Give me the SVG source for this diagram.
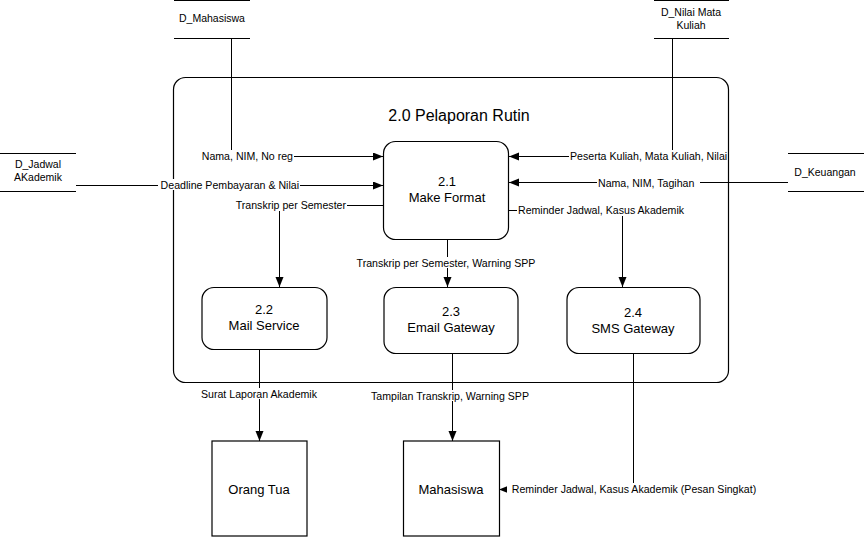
<svg xmlns="http://www.w3.org/2000/svg" width="864" height="537" viewBox="0 0 864 537">
<style>
text{font-family:"Liberation Sans",Arial,sans-serif;fill:#000}
.lbl{font-size:10.6px}
.st{font-size:10.5px;text-anchor:middle}
.nt{font-size:13px;text-anchor:middle}
.ttl{font-size:16px;text-anchor:middle}
.proc{fill:#fff;stroke:#000;stroke-width:1.2}
.ent{fill:#fff;stroke:#000;stroke-width:1.2}
.line{fill:none;stroke:#000;stroke-width:1}
.bg{fill:#fff}
</style>
<defs>
<marker id="arr" markerUnits="userSpaceOnUse" markerWidth="11" markerHeight="9" refX="10" refY="4" orient="auto">
<path d="M0,0 L10,4 L0,8 z" fill="#000"/>
</marker>
</defs>
<rect width="864" height="537" fill="#fff"/>
<g id="boundary">
<rect x="173.5" y="77.5" width="555" height="305" rx="12" fill="none" stroke="#000" stroke-width="1.2"/>
<text class="ttl" x="459" y="121">2.0 Pelaporan Rutin</text>
</g>
<g id="connectors">
<path class="line" d="M231.5,38 V156.5 H383" marker-end="url(#arr)"/>
<path class="line" d="M76,185.5 H383" marker-end="url(#arr)"/>
<path class="line" d="M672.5,38 V156.5 H509" marker-end="url(#arr)"/>
<path class="line" d="M788,182.5 H509" marker-end="url(#arr)"/>
<path class="line" d="M383,205.5 H279.5 V287" marker-end="url(#arr)"/>
<path class="line" d="M509,210.5 H622.5 V287" marker-end="url(#arr)"/>
<path class="line" d="M447.5,239 V287" marker-end="url(#arr)"/>
<path class="line" d="M259.5,349 V441" marker-end="url(#arr)"/>
<path class="line" d="M452.5,354 V441" marker-end="url(#arr)"/>
<path class="line" d="M633.5,354 V489.5 H499" marker-end="url(#arr)"/>
<g id="labels">
<rect class="bg" x="201" y="150" width="93" height="11"/>
<text class="lbl" x="293" y="159.5" text-anchor="end">Nama, NIM, No reg</text>
<rect class="bg" x="158" y="179" width="142" height="11"/>
<text class="lbl" x="299" y="188.5" text-anchor="end">Deadline Pembayaran &amp; Nilai</text>
<rect class="bg" x="569" y="150" width="158" height="11"/>
<text class="lbl" x="570" y="159.5">Peserta Kuliah, Mata Kuliah, Nilai</text>
<rect class="bg" x="597" y="177" width="103" height="11"/>
<text class="lbl" x="598" y="186.5">Nama, NIM, Tagihan</text>
<rect class="bg" x="233" y="199" width="114" height="12"/>
<text class="lbl" x="346" y="208.5" text-anchor="end">Transkrip per Semester</text>
<rect class="bg" x="517" y="204" width="172" height="12"/>
<text class="lbl" x="518" y="213.5">Reminder Jadwal, Kasus Akademik</text>
<rect class="bg" x="350" y="257" width="192" height="11"/>
<text class="lbl" x="446" y="266.5" text-anchor="middle">Transkrip per Semester, Warning SPP</text>
<rect class="bg" x="197" y="388" width="124" height="11"/>
<text class="lbl" x="259" y="397.5" text-anchor="middle">Surat Laporan Akademik</text>
<rect class="bg" x="365" y="390" width="170" height="11"/>
<text class="lbl" x="450" y="399.5" text-anchor="middle">Tampilan Transkrip, Warning SPP</text>
<rect class="bg" x="507" y="483" width="254" height="12"/>
<text class="lbl" x="634" y="492.5" text-anchor="middle">Reminder Jadwal, Kasus Akademik (Pesan Singkat)</text>
</g>
</g>
<g id="D_Mahasiswa">
<path class="line" d="M174,0.5 H250 M174,38.5 H250"/>
<text class="st" x="212" y="22">D_Mahasiswa</text>
</g>
<g id="D_Nilai_Mata_Kuliah">
<path class="line" d="M654,0.5 H729 M654,38.5 H729"/>
<text class="st" x="691" y="16">D_Nilai Mata</text>
<text class="st" x="691" y="29">Kuliah</text>
</g>
<g id="D_Jadwal_Akademik">
<path class="line" d="M0,153.5 H76 M0,191.5 H76"/>
<text class="st" x="38" y="168">D_Jadwal</text>
<text class="st" x="38" y="181">AKademik</text>
</g>
<g id="D_Keuangan">
<path class="line" d="M788,153.5 H864 M788,191.5 H864"/>
<text class="st" x="825" y="175.5">D_Keuangan</text>
</g>
<g id="p21">
<rect class="proc" x="383.5" y="141.5" width="125" height="98" rx="12"/>
<text class="nt" x="447" y="186">2.1</text>
<text class="nt" x="447" y="202">Make Format</text>
</g>
<g id="p22">
<rect class="proc" x="202" y="287.5" width="125" height="62" rx="12"/>
<text class="nt" x="264" y="314">2.2</text>
<text class="nt" x="264" y="330">Mail Service</text>
</g>
<g id="p23">
<rect class="proc" x="384" y="287.5" width="134" height="66" rx="12"/>
<text class="nt" x="451" y="316">2.3</text>
<text class="nt" x="451" y="332">Email Gateway</text>
</g>
<g id="p24">
<rect class="proc" x="567" y="287.5" width="133" height="66" rx="12"/>
<text class="nt" x="633" y="317">2.4</text>
<text class="nt" x="633" y="333">SMS Gateway</text>
</g>
<g id="Orang_Tua">
<rect class="ent" x="212" y="441" width="95" height="95"/>
<text class="nt" x="259" y="494">Orang Tua</text>
</g>
<g id="Mahasiswa">
<rect class="ent" x="403.5" y="441" width="96" height="95"/>
<text class="nt" x="451" y="494">Mahasiswa</text>
</g>
</svg>
